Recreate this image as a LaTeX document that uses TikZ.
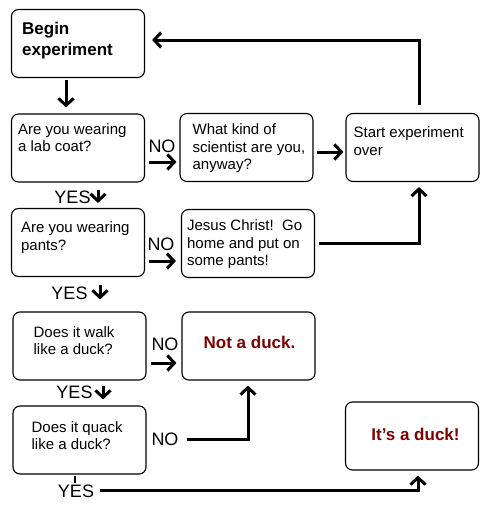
\documentclass[tikz,border=0pt]{standalone}
\usepackage{fontspec}
\setmainfont{Liberation Sans}
\usetikzlibrary{arrows.meta}
\definecolor{duckred}{HTML}{800000}
\newcommand{\boxtext}[1]{\begin{tabular}[t]{@{}l@{}}#1\end{tabular}}

\begin{document}
\begin{tikzpicture}[x=1pt,y=-1pt,
    box/.style={draw,rounded corners=7pt,line width=1.1pt,minimum width=133pt,minimum height=68pt,inner sep=0pt},
    txt/.style={anchor=base west,inner sep=0pt,font=\fontsize{15}{17.5}\selectfont},
    answer/.style={anchor=base,inner sep=0pt,font=\fontsize{18}{21}\selectfont},
    result/.style={anchor=base,inner sep=0pt,text=duckred,font=\fontsize{17}{20}\selectfont\bfseries},
    line/.style={line width=3pt},
    arr/.style={line width=3pt,-{Straight Barb[length=7pt,width=15pt]}}]
    \useasboundingbox (0,0) rectangle (491,506);
    % boxes
    \node[box] (begin) at (78,43.5) {};
    \node[box] (lab) at (78,148) {};
    \node[box] (what) at (246.5,147.5) {};
    \node[box] (start) at (412.5,147.5) {};
    \node[box] (pants) at (78,242.5) {};
    \node[box] (jesus) at (248,243.5) {};
    \node[box] (walk) at (79.5,346) {};
    \node[box] (notduck) at (248.5,346) {};
    \node[box] (quack) at (79.5,440) {};
    \node[box] (duck) at (412,436) {};
    % texts
    \node[txt,font=\fontsize{17}{21}\selectfont\bfseries] (begin-t) at ([shift={(11,26)}]begin.north west) {\boxtext{Begin\\experiment}};
    \node[txt] (lab-t) at ([shift={(7,21)}]lab.north west) {\boxtext{Are you wearing\\a lab coat?}};
    \node[txt] (what-t) at ([shift={(13,22)}]what.north west) {\boxtext{What kind of\\scientist are you,\\anyway?}};
    \node[txt] (start-t) at ([shift={(8,25)}]start.north west) {\boxtext{Start experiment\\over}};
    \node[txt] (pants-t) at ([shift={(10,25)}]pants.north west) {\boxtext{Are you wearing\\pants?}};
    \node[txt] (jesus-t) at ([shift={(6,22)}]jesus.north west) {\boxtext{Jesus Christ!\ \ Go\\home and put on\\some pants!}};
    \node[txt] (walk-t) at ([shift={(21,26)}]walk.north west) {\boxtext{Does it walk\\like a duck?}};
    \node[txt] (quack-t) at ([shift={(19,27)}]quack.north west) {\boxtext{Does it quack\\like a duck?}};
    \node[result] (notduck-t) at ([shift={(1,2)}]notduck.center) {Not a duck.};
    \node[result] (duck-t) at ([shift={(3.5,4)}]duck.center) {It's a duck!};
    % answers
    \node[answer] (no1) at (162,152) {NO};
    \node[answer] (yes1) at (72.5,203) {YES};
    \node[answer] (no2) at (161,250) {NO};
    \node[answer] (yes2) at (69.5,299.3) {YES};
    \node[answer] (no3) at (165,350) {NO};
    \node[answer] (yes3) at (74.5,398) {YES};
    \node[answer] (no4) at (165,445) {NO};
    \node[answer] (yes4) at (76,497) {YES};
    % connectors
    \draw[arr] ([shift={(-12,2)}]begin.south) -- ([shift={(-12,-6)}]lab.north);
    \draw[arr] ([shift={(4,14)}]lab.east) -- ([shift={(-3,14.5)}]what.west);
    \draw[arr] ([shift={(3,4.5)}]what.east) -- ([shift={(-2,4.5)}]start.west);
    \draw[arr] ([shift={(6.5,-8)}]start.north) |- ([shift={(7,-3.5)}]begin.east);
    \draw[arr] ([shift={(20,7)}]lab.south) -- ([shift={(20,-5)}]pants.north);
    \draw[arr] ([shift={(4,18.5)}]pants.east) -- ([shift={(-5,17.5)}]jesus.west);
    \draw[arr] ([shift={(4,-0.5)}]jesus.east) -| ([shift={(6.5,5)}]start.south);
    \draw[arr] ([shift={(22,8)}]pants.south) -- ([shift={(20.5,-12)}]walk.north);
    \draw[arr] ([shift={(4,17)}]walk.east) -- ([shift={(-5,17)}]notduck.west);
    \draw[arr] ([shift={(23.5,5)}]walk.south) -- ([shift={(23.5,-6)}]quack.north);
    \draw[arr] ([shift={(40,-1)}]quack.east) -| ([shift={(-0.5,5)}]notduck.south);
    \draw[line,line width=2pt] ([shift={(-4.5,1)}]quack.south) -- ([shift={(-4.5,8)}]quack.south);
    \draw[arr] ([xshift=6pt]yes4.east) -| ([shift={(6,5)}]duck.south);
\end{tikzpicture}
\end{document}
